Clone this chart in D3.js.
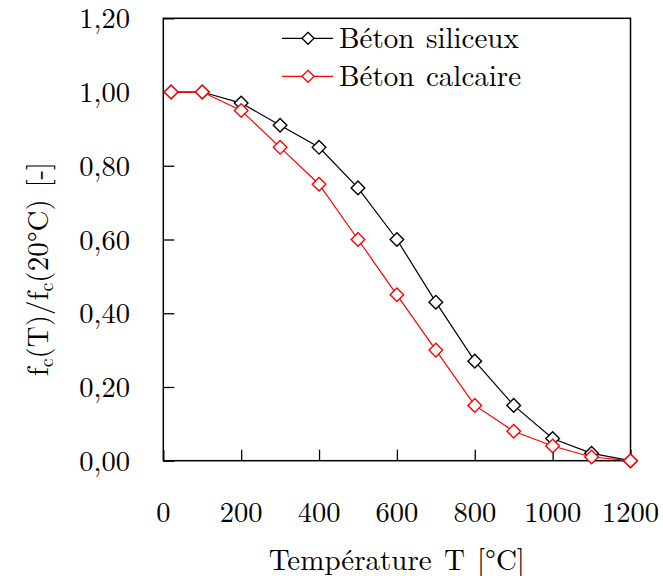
<!DOCTYPE html>
<html><head><meta charset="utf-8">
<script src="https://cdn.jsdelivr.net/npm/d3@7/dist/d3.min.js"></script>
<style>body{margin:0;background:#fff}svg{display:block}</style>
</head><body>
<svg id="c" width="663" height="576" font-family="'Latin Modern Roman','Liberation Serif',serif"></svg>
<script>
const temperatures = [20,100,200,300,400,500,600,700,800,900,1000,1100,1200];
const siliceux = [1.00,1.00,0.97,0.91,0.85,0.74,0.60,0.43,0.27,0.15,0.06,0.02,0.00];
const calcaire = [1.00,1.00,0.95,0.85,0.75,0.60,0.45,0.30,0.15,0.08,0.04,0.01,0.00];
const seriesNames = ["Béton siliceux","Béton calcaire"];
const seriesColors = ["#000000","#ff0000"];
const xTicks = [0,200,400,600,800,1000,1200];
const yTicks = [0,0.2,0.4,0.6,0.8,1.0,1.2];
const xTitle = "Température T [°C]";

const svg = d3.select("#c");
const L=163.3, R=630.5, T=18.3, B=460.7;
const x = d3.scaleLinear().domain([0,1200]).range([L,R]);
const y = d3.scaleLinear().domain([0,1.2]).range([B,T]);
const fs = 28.5, fsT = 29;

// ticks inward
const xAxis = d3.axisBottom(x).tickValues(xTicks).tickSize(-11).tickFormat("");
const yAxis = d3.axisLeft(y).tickValues(yTicks).tickSize(-11).tickFormat("");
const gx = svg.append("g").attr("transform",`translate(0,${B})`).call(xAxis);
const gy = svg.append("g").attr("transform",`translate(${L},0)`).call(yAxis);
[gx,gy].forEach(g=>{g.attr("font-family",null).attr("font-size",null);g.select(".domain").remove();g.selectAll("line").attr("stroke","#000").attr("stroke-width",1.3);});

svg.append("rect").attr("x",L).attr("y",T).attr("width",R-L).attr("height",B-T)
  .attr("fill","none").attr("stroke","#000").attr("stroke-width",1.5);

// tick labels
svg.append("g").selectAll("text").data(xTicks).join("text")
  .attr("x",d=>x(d)).attr("y",521.5).attr("text-anchor","middle").attr("font-size",fs)
  .text(d=>d);
const fmt = d=>d.toFixed(2).replace(".",",");
svg.append("g").selectAll("text").data(yTicks).join("text")
  .attr("x",130).attr("y",d=>y(d)+10).attr("text-anchor","end").attr("font-size",fs)
  .text(fmt);

// titles
svg.append("text").attr("x",(L+R)/2).attr("y",569.5).attr("text-anchor","middle")
  .attr("font-size",fsT).attr("word-spacing",2.5).text(xTitle);
const yl = svg.append("text").attr("transform","translate(48,269) rotate(-90)")
  .attr("text-anchor","middle").attr("font-size",fsT).attr("word-spacing",2);
yl.append("tspan").text("f");
yl.append("tspan").attr("font-size",20).attr("dy",5).text("c");
yl.append("tspan").attr("dy",-5).text("(T)/f");
yl.append("tspan").attr("font-size",20).attr("dy",5).text("c");
yl.append("tspan").attr("dy",-5).text("(20°C) [-]");

// series
const data = [siliceux, calcaire];
const line = d3.line().x((d,i)=>x(temperatures[i])).y(d=>y(d));
const diamond = (cx,cy,r)=>`M${cx},${cy-r}L${cx+r},${cy}L${cx},${cy+r}L${cx-r},${cy}Z`;
data.forEach((vals,si)=>{
  const g = svg.append("g");
  g.append("path").attr("d",line(vals)).attr("fill","none")
    .attr("stroke",seriesColors[si]).attr("stroke-width",1.2);
  g.selectAll("path.m").data(vals).join("path").attr("class","m")
    .attr("d",(d,i)=>diamond(x(temperatures[i]),y(d),6.8))
    .attr("fill","#fff").attr("stroke",seriesColors[si]).attr("stroke-width",1.4);
});

// legend
const lg = svg.append("g");
seriesNames.forEach((n,i)=>{
  const ly = 38.3 + i*38;
  lg.append("line").attr("x1",282).attr("x2",333).attr("y1",ly).attr("y2",ly)
    .attr("stroke",seriesColors[i]).attr("stroke-width",1.2);
  lg.append("path").attr("d",diamond(308,ly,6)).attr("fill","#fff")
    .attr("stroke",seriesColors[i]).attr("stroke-width",1.3);
  lg.append("text").attr("x",339).attr("y",ly+10).attr("font-size",fsT).attr("word-spacing",2).text(n);
});
</script>
</body></html>
